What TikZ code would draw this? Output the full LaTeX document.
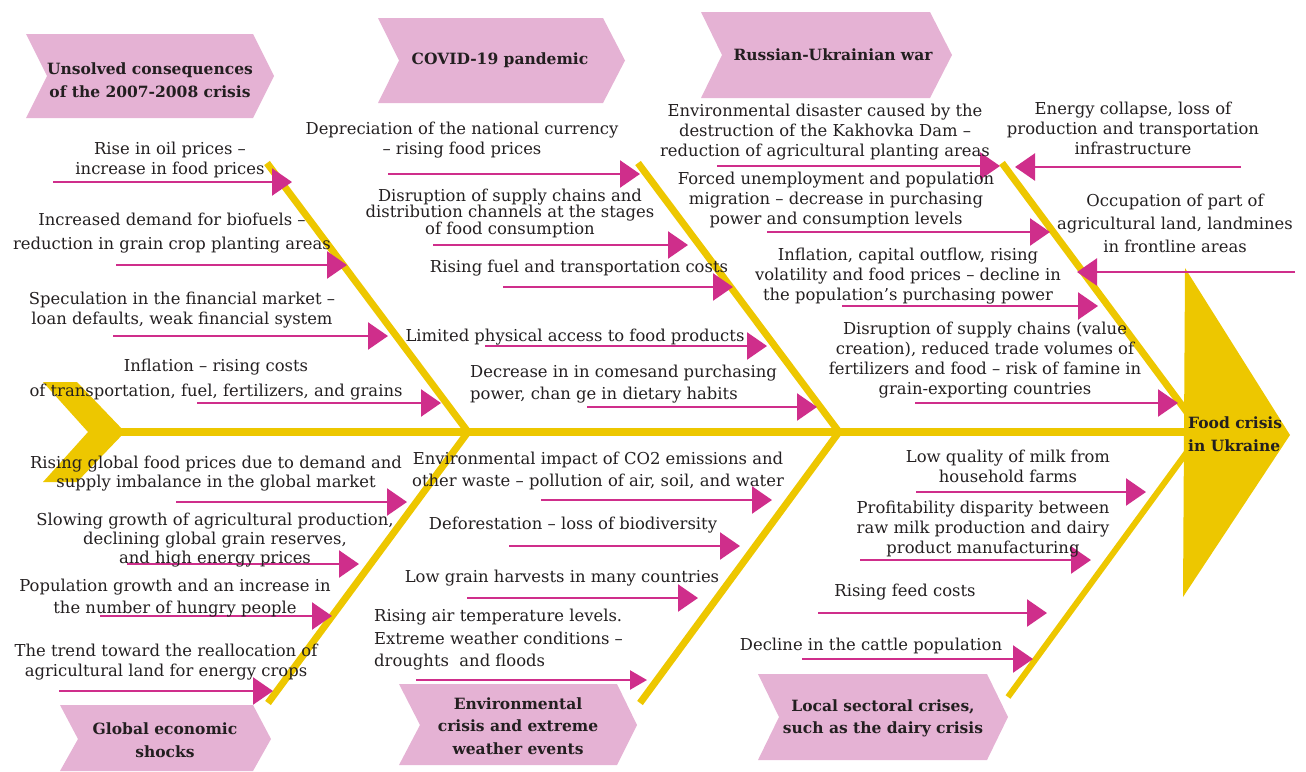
\documentclass[tikz,border=0pt]{standalone}
\usepackage{fontspec}
\setmainfont{DejaVu Serif}
\usetikzlibrary{arrows.meta}
\definecolor{yel}{RGB}{237,199,0}
\definecolor{mag}{RGB}{207,46,139}
\definecolor{pnk}{RGB}{229,178,212}
\definecolor{txt}{RGB}{35,31,32}
\begin{document}
\begin{tikzpicture}[x=1pt,y=-1pt,
  lbl/.style={text=txt, font=\fontsize{16.4}{20}\selectfont, align=center, inner sep=0pt},
  sp/.style={font=\fontsize{16.4}{#1}\selectfont},
  cat/.style={text=txt, font=\fontsize{15.5}{23}\selectfont\bfseries, align=center, inner sep=0pt},
  arr/.style={draw=mag, line width=2.4pt, -{Triangle[length=20pt,width=27pt]}},
  arrsm/.style={draw=mag, line width=2.4pt, -{Triangle[length=17pt,width=19pt]}},
  bone/.style={draw=yel, line width=7pt},
  catfill/.style={fill=pnk}]
\useasboundingbox (0,0) rectangle (1306,771);

% category boxes
\fill[catfill] (26,34) -- (253,34) -- (274,76) -- (253,118) -- (26,118) -- (47,76) -- cycle;
\fill[catfill] (378,18) -- (603,18) -- (625,60.5) -- (603,103) -- (378,103) -- (399,60.5) -- cycle;
\fill[catfill] (701,12) -- (930,12) -- (952,55) -- (930,98) -- (701,98) -- (722,55) -- cycle;
\fill[catfill] (60,705) -- (253,705) -- (271,739) -- (253,771) -- (60,771) -- (78,739) -- cycle;
\fill[catfill] (399,684) -- (617,684) -- (637,725) -- (617,765) -- (399,765) -- (420,725) -- cycle;
\fill[catfill] (758,674) -- (987,674) -- (1008,717) -- (987,760) -- (758,760) -- (779,717) -- cycle;

\node[cat] (k1) at (150,80) {Unsolved consequences\\of the 2007-2008 crisis};
\node[cat] (k2) at (500,60) {COVID-19 pandemic};
\node[cat] (k3) at (833,55) {Russian-Ukrainian war};
\node[cat] (k4) at (165,740) {Global economic\\shocks};
\node[cat, font=\fontsize{15.5}{22.5}\selectfont\bfseries] (k5) at (518,726) {Environmental\\crisis and extreme\\weather events};
\node[cat, font=\fontsize{15.5}{22}\selectfont\bfseries] (k6) at (883,718) {Local sectoral crises,\\such as the dairy crisis};

% fish skeleton
\coordinate (tail) at (118,432);
\coordinate (j1) at (468,432);
\coordinate (j2) at (839,432);
\coordinate (hd) at (1190,432);
\coordinate (u1) at (267,163);
\coordinate (u2) at (638,163);
\coordinate (u3) at (1002,163);
\coordinate (u3e) at (1195,423);
\coordinate (l1) at (268,703);
\coordinate (l2) at (640,703);
\coordinate (l3) at (1008,697);
\coordinate (l3e) at (1195,441);
\draw[bone] (u1) -- (j1);
\draw[bone] (u2) -- (j2);
\draw[bone] (u3) -- (u3e);
\draw[bone] (l1) -- (j1);
\draw[bone] (l2) -- (j2);
\draw[bone, line width=6pt] (l3) -- (l3e);
\draw[draw=yel, line width=8pt] (tail) -- (hd);
\fill[yel] (43,382) -- (77,382) -- (125,432) -- (77,482) -- (43,482) -- (88,432) -- cycle;
\fill[yel] (1185,268) -- (1290,435) -- (1183,597) -- cycle;

% arrows
\foreach \n/\xa/\xb/\yy in {a1/53/292/182, a2/116/347/265, a3/113/388/336, a4/197/441/403,
  b1/388/640/174, b2/433/688/245, b3/503/733/287, b4/485/767/346, b5/587/817/407,
  c1/717/1000/166, c2/1241/1015/167, c3/767/1050/232, c4/1295/1077/272, c5/842/1098/306, c6/915/1178/403,
  d1/176/407/502, d2/127/359/564, d3/100/332/616, d4/59/273/691,
  e1/541/772/500, e2/509/740/546, e3/467/698/598,
  f1/916/1146/492, f2/860/1091/560, f3/818/1047/613, f4/802/1033/659}{
  \coordinate (\n s) at (\xa,\yy);
  \coordinate (\n e) at (\xb,\yy);
  \draw[arr] (\n s) -- (\n e);
}
\coordinate (e4s) at (416,680);
\coordinate (e4e) at (647,680);
\draw[arrsm] (e4s) -- (e4e);

% labels
\node[lbl] (t1) at (170,160) {Rise in oil prices –\\increase in food prices};
\node[lbl, sp=24] (t2) at (172,233) {Increased demand for biofuels –\\reduction in grain crop planting areas};
\node[lbl] (t3) at (182,310) {Speculation in the financial market –\\loan defaults, weak financial system};
\node[lbl, sp=25] (t4) at (216,380) {Inflation – rising costs\\of transportation, fuel, fertilizers, and grains};
\node[lbl] (t5) at (462,140) {Depreciation of the national currency\\– rising food prices};
\node[lbl, sp=16.5] (t6) at (510,213) {Disruption of supply chains and\\distribution channels at the stages\\of food consumption};
\node[lbl] (t7) at (579,268) {Rising fuel and transportation costs};
\node[lbl] (t8) at (575,337) {Limited physical access to food products};
\node[lbl, sp=22, align=left, anchor=west] (t9) at (470,384) {Decrease in in comesand purchasing\\power, chan ge in dietary habits};
\node[lbl] (t10) at (825,132) {Environmental disaster caused by the\\destruction of the Kakhovka Dam –\\reduction of agricultural planting areas};
\node[lbl] (t11) at (1133,128) {Energy collapse, loss of\\production and transportation\\infrastructure};
\node[lbl] (t12) at (836,200) {Forced unemployment and population\\migration – decrease in purchasing\\power and consumption levels};
\node[lbl, sp=23] (t13) at (1175,223) {Occupation of part of\\agricultural land, landmines\\in frontline areas};
\node[lbl] (t14) at (908,276) {Inflation, capital outflow, rising\\volatility and food prices – decline in\\the population’s purchasing power};
\node[lbl] (t15) at (985,360) {Disruption of supply chains (value\\creation), reduced trade volumes of\\fertilizers and food – risk of famine in\\grain-exporting countries};
\node[lbl, sp=19] (t16) at (216,474) {Rising global food prices due to demand and\\supply imbalance in the global market};
\node[lbl, sp=19] (t17) at (215,540) {Slowing growth of agricultural production,\\declining global grain reserves,\\and high energy prices};
\node[lbl, sp=22] (t18) at (175,598) {Population growth and an increase in\\the number of hungry people};
\node[lbl] (t19) at (166,662) {The trend toward the reallocation of\\agricultural land for energy crops};
\node[lbl, sp=22] (t20) at (598,471) {Environmental impact of CO2 emissions and\\other waste – pollution of air, soil, and water};
\node[lbl] (t21) at (573,525) {Deforestation – loss of biodiversity};
\node[lbl] (t22) at (562,578) {Low grain harvests in many countries};
\node[lbl, sp=22.5, align=left, anchor=west] (t23) at (374,640) {Rising air temperature levels.\\Extreme weather conditions –\\droughts~ and floods};
\node[lbl] (t24) at (1008,466) {Low quality of milk from\\household farms};
\node[lbl] (t25) at (983,529) {Profitability disparity between\\raw milk production and dairy\\product manufacturing};
\node[lbl] (t26) at (905,592) {Rising feed costs};
\node[lbl] (t27) at (871,646) {Decline in the cattle population};

\node[cat, align=left, anchor=west] (k7) at (1188,434) {Food crisis\\in Ukraine};
\end{tikzpicture}
\end{document}
